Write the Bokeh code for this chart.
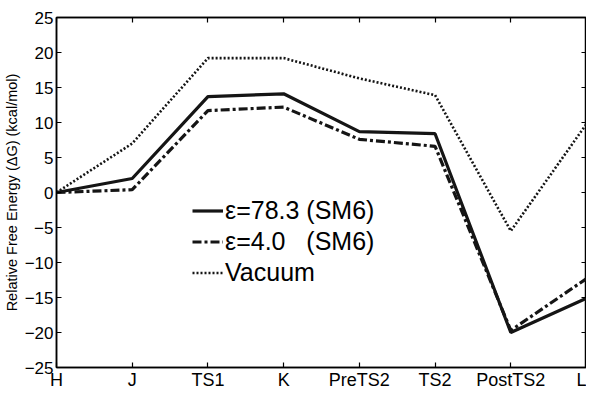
from bokeh.plotting import figure
from bokeh.models import LinearAxis, FixedTicker, Legend, LegendItem, Range1d
from bokeh.embed import file_html
from bokeh.resources import INLINE

categories = ["H", "J", "TS1", "K", "PreTS2", "TS2", "PostTS2", "L"]
eps78 = [0.0, 2.0, 13.7, 14.1, 8.7, 8.4, -20.0, -15.1]
eps4 = [0.0, 0.4, 11.7, 12.2, 7.6, 6.6, -19.7, -12.3]
vacuum = [0.0, 7.0, 19.2, 19.2, 16.3, 13.9, -5.5, 9.8]
yticks = [-25, -20, -15, -10, -5, 0, 5, 10, 15, 20, 25]

xs = list(range(len(categories)))
FONT = "Liberation Sans"

p = figure(width=586, height=392, output_backend="svg", toolbar_location=None,
           x_range=Range1d(0, len(categories) - 1), y_range=Range1d(-25, 25),
           x_axis_location=None, y_axis_location=None,
           min_border_left=50, min_border_right=0, min_border_top=17, min_border_bottom=0)
p.grid.visible = False
p.outline_line_color = "black"
p.outline_line_width = 1.5
p.background_fill_color = "white"
p.border_fill_color = "white"

overrides = {i: c for i, c in enumerate(categories)}

def style_axis(ax, labels=True):
    ax.major_tick_in = 5
    ax.major_tick_out = 0
    ax.minor_tick_in = 0
    ax.minor_tick_out = 0
    ax.axis_line_color = "black"
    ax.axis_line_width = 1.5
    ax.major_tick_line_color = "black"
    ax.major_tick_line_width = 1.2
    ax.major_label_text_font = FONT
    ax.major_label_text_font_size = "17px" if labels else "0px"
    ax.major_label_text_color = "black"
    ax.major_label_standoff = 3 if labels else 0

xb = LinearAxis(ticker=FixedTicker(ticks=xs), major_label_overrides=overrides)
style_axis(xb)
xb.major_label_text_font_size = "18px"
xb.major_label_standoff = 2
xb.major_label_text_line_height = 0.9
p.add_layout(xb, "below")
xt = LinearAxis(ticker=FixedTicker(ticks=xs), major_label_overrides={i: "" for i in xs})
style_axis(xt, labels=False)
p.add_layout(xt, "above")
yl = LinearAxis(ticker=FixedTicker(ticks=yticks), axis_label="Relative Free Energy (ΔG) (kcal/mol)")
style_axis(yl)
yl.axis_label_text_font = FONT
yl.axis_label_text_font_size = "14.5px"
yl.axis_label_text_font_style = "normal"
yl.axis_label_text_color = "black"
yl.axis_label_standoff = 2
p.add_layout(yl, "left")
yr = LinearAxis(ticker=FixedTicker(ticks=yticks), major_label_overrides={t: "" for t in yticks})
style_axis(yr, labels=False)
p.add_layout(yr, "right")

col = "#151515"
r1 = p.line(xs, eps78, line_color=col, line_width=3.2)
r2 = p.line(xs, eps4, line_color=col, line_width=3.2, line_dash="9 3 3 3")
r3 = p.line(xs, vacuum, line_color=col, line_width=2.6, line_dash="2 2")

legend = Legend(items=[
    LegendItem(label="ε=78.3 (SM6)", renderers=[r1]),
    LegendItem(label="ε=4.0   (SM6)", renderers=[r2]),
    LegendItem(label="Vacuum", renderers=[r3]),
], location=(136, 79))
legend.border_line_color = None
legend.background_fill_alpha = 0
legend.label_text_font = FONT
legend.label_text_font_size = "25px"
legend.label_text_color = "black"
legend.glyph_width = 31
legend.glyph_height = 31
legend.label_height = 31
legend.spacing = 0
legend.label_standoff = 2
legend.padding = 4
p.add_layout(legend, "center")

open("out.html", "w").write(file_html(p, INLINE))
